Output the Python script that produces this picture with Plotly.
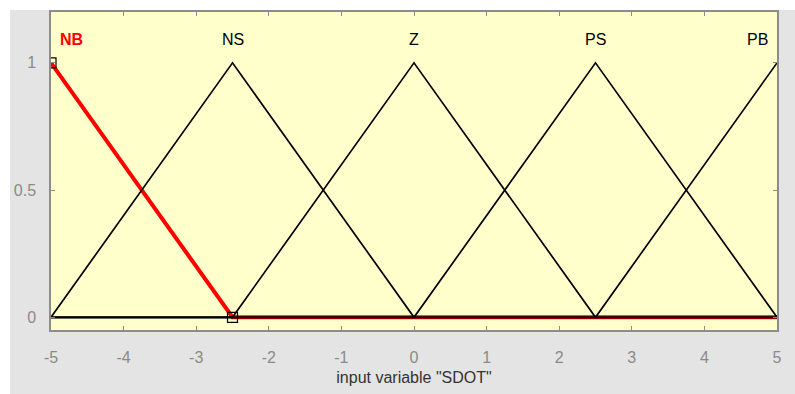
import plotly.graph_objects as go

# Membership functions of the input variable "SDOT" (triangular: a, b, c)
mf_names = ["NB", "NS", "Z", "PS", "PB"]
mf_a = [-7.5, -5.0, -2.5, 0.0, 2.5]
mf_b = [-5.0, -2.5, 0.0, 2.5, 5.0]
mf_c = [-2.5, 0.0, 2.5, 5.0, 7.5]
x_range = [-5.0, 5.0]
x_breaks = [-5.0, -2.5, 0.0, 2.5, 5.0]
x_ticks = [-5, -4, -3, -2, -1, 0, 1, 2, 3, 4, 5]
x_tick_labels = ["-5", "-4", "-3", "-2", "-1", "0", "1", "2", "3", "4", "5"]
y_ticks = [0, 0.5, 1]
y_tick_labels = ["0", "0.5", "1"]
selected = "NB"


def trimf(x, a, b, c):
    if x <= a or x >= c:
        return 1.0 if x == b else 0.0
    if x <= b:
        return (x - a) / (b - a)
    return (c - x) / (c - b)


FONT = "Liberation Sans, Arial, sans-serif"
fig = go.Figure()

# selected MF first (thick red), the others drawn on top in black
order = [selected] + [n for n in mf_names if n != selected]
for name in order:
    i = mf_names.index(name)
    ys = [trimf(x, mf_a[i], mf_b[i], mf_c[i]) for x in x_breaks]
    is_sel = name == selected
    fig.add_trace(go.Scatter(
        x=x_breaks, y=ys, mode="lines",
        line=dict(color="#ff0000" if is_sel else "#000000",
                  width=4 if is_sel else 1.7),
        hoverinfo="skip", showlegend=False,
    ))

# square handles on the selected MF
i = mf_names.index(selected)
hx = [mf_b[i], mf_c[i]]
hy = [trimf(x, mf_a[i], mf_b[i], mf_c[i]) for x in hx]
fig.add_trace(go.Scatter(
    x=hx, y=hy, mode="markers",
    marker=dict(symbol="square-open", size=10, color="#000000",
                line=dict(width=1.2)),
    hoverinfo="skip", showlegend=False,
))

# MF names above the peaks, kept inside the axes
for k, name in enumerate(mf_names):
    px = mf_b[k]
    anchor = "center"
    if px <= x_range[0]:
        px, anchor = x_range[0] + 0.1, "left"
    elif px >= x_range[1]:
        px, anchor = x_range[1] - 0.1, "right"
    is_sel = name == selected
    fig.add_annotation(
        x=px, y=1.093, text=f"<b>{name}</b>" if is_sel else name,
        showarrow=False, xanchor=anchor, yanchor="middle",
        font=dict(family=FONT, size=16,
                  color="#ff0000" if is_sel else "#000000"),
    )

# white strips at the top and left edges of the window
fig.add_shape(type="rect", xref="paper", yref="paper",
              x0=-0.1, x1=-0.0565, y0=-0.3, y1=1.1,
              fillcolor="white", line_width=0, layer="below")
fig.add_shape(type="rect", xref="paper", yref="paper",
              x0=-0.1, x1=1.1, y0=1.0062, y1=1.1,
              fillcolor="white", line_width=0, layer="below")

axis_common = dict(
    showgrid=False, zeroline=False, showline=True, mirror="ticks",
    linecolor="#8c8c8c", linewidth=1.5, ticks="inside", ticklen=4,
    tickcolor="#8c8c8c", tickfont=dict(family=FONT, size=16, color="#8a8a8a"),
)

fig.update_layout(
    width=795, height=394,
    margin=dict(l=51, r=18, t=10, b=62),
    paper_bgcolor="#e4e4e4",
    plot_bgcolor="#ffffcc",
    xaxis=dict(range=x_range, tickvals=x_ticks, ticktext=x_tick_labels,
               ticklabelstandoff=12,
               title=dict(text='input variable "SDOT"', standoff=7,
                          font=dict(family=FONT, size=16, color="#333333")),
               **axis_common),
    yaxis=dict(range=[-0.05, 1.2], tickvals=y_ticks, ticktext=y_tick_labels,
               ticklabelstandoff=10,
               **axis_common),
)

fig.write_html("out.html")
